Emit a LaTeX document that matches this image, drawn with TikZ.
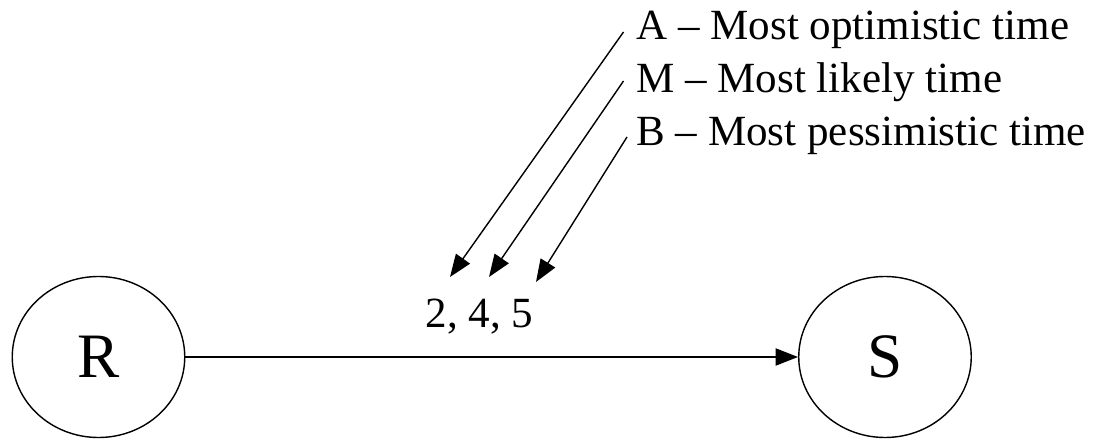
\documentclass[tikz,border=0pt]{standalone}
\usepackage{fontspec}
\setmainfont{Liberation Serif}
\usepackage{tikz}
\usetikzlibrary{arrows.meta,shapes.geometric}
\tikzset{
  eventnode/.style={draw,ellipse,line width=0.8pt,minimum width=3.45cm,minimum height=3.22cm,inner sep=0pt,font=\fontsize{36}{43}\selectfont},
  txtnode/.style={inner sep=0pt,font=\fontsize{24.5}{29}\selectfont},
  tip/.style={-{Triangle[length=0.45cm,width=0.34cm]}}
}

\begin{document}
\begin{tikzpicture}[x=1cm,y=1cm]
\path[use as bounding box] (0,0) rectangle (22.02,8.80);
% events
\node[eventnode] (R) at (1.97,1.66) {R};
\node[eventnode] (S) at (17.70,1.66) {S};
\draw[tip,line width=1.3pt] (R) -- (S);
\node[txtnode,anchor=base] (dur) at (9.59,2.24) {2, 4, 5};
% time estimates
\node[txtnode,anchor=base west] (optim) at (12.72,8.00) {A -- Most optimistic time};
\node[txtnode,anchor=base west] (likely) at (12.72,6.94) {M -- Most likely time};
\node[txtnode,anchor=base west] (pessim) at (12.72,5.88) {B -- Most pessimistic time};
\coordinate (optimtail) at ([shift={(-0.25,0.16)}]optim.base west);
\coordinate (likelytail) at ([shift={(-0.25,0.24)}]likely.base west);
\coordinate (pessimtail) at ([shift={(-0.18,0.18)}]pessim.base west);
\coordinate (optimhead) at (9.00,3.26);
\coordinate (likelyhead) at (9.78,3.26);
\coordinate (pessimhead) at (10.72,3.16);
\draw[tip,line width=0.8pt] (optimtail) -- (optimhead);
\draw[tip,line width=0.8pt] (likelytail) -- (likelyhead);
\draw[tip,line width=0.8pt] (pessimtail) -- (pessimhead);
\end{tikzpicture}
\end{document}
